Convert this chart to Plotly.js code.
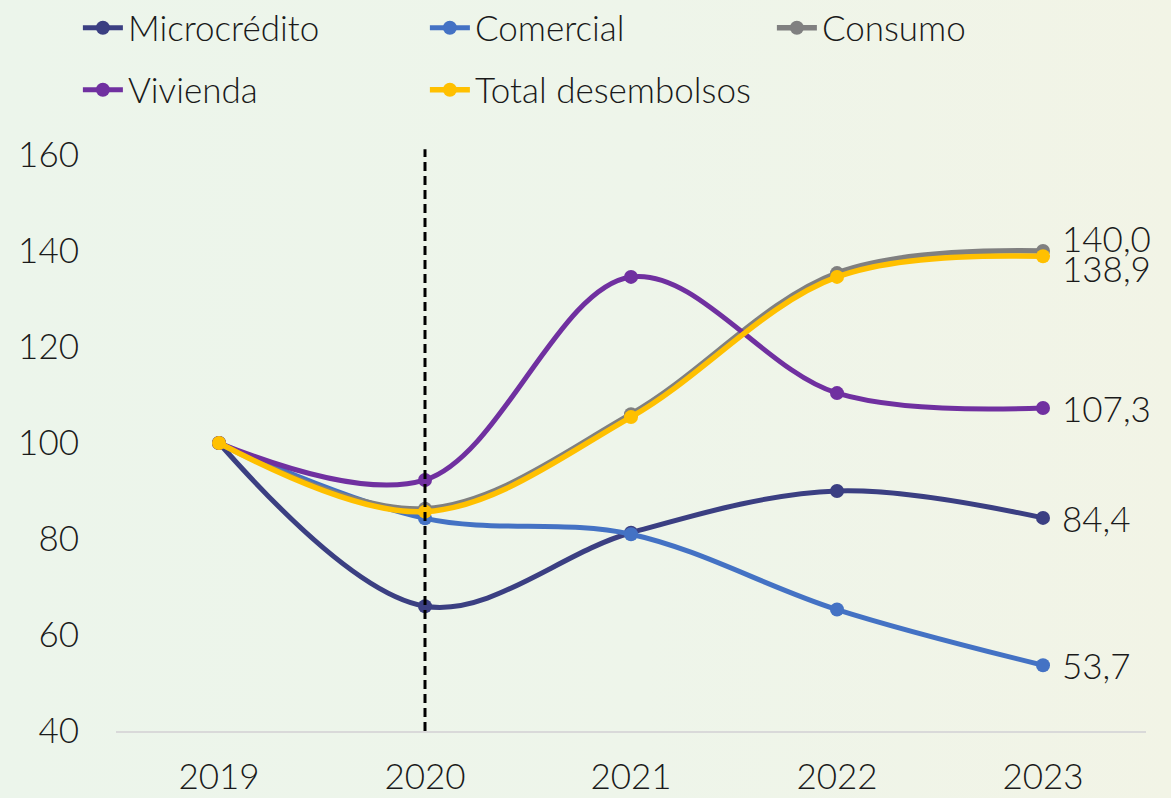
<!DOCTYPE html>
<html>
<head>
<meta charset="utf-8">
<script src="https://cdn.plot.ly/plotly-3.0.1.min.js"></script>
<style>
  html, body { margin: 0; padding: 0; }
  body { width: 1171px; height: 798px; background: linear-gradient(to right, #ecf5eb 0%, #eef5ea 55%, #f2f4e6 100%); }
  #chart { width: 1171px; height: 798px; }
</style>
</head>
<body>
<div id="chart"></div>
<script>
const years = ['2019', '2020', '2021', '2022', '2023'];
const microcredito = [100, 66.0, 81.3, 90.0, 84.4];
const comercial = [100, 84.3, 81.0, 65.3, 53.7];
const consumo = [100, 86.3, 106.0, 135.4, 140.0];
const vivienda = [100, 92.3, 134.6, 110.4, 107.3];
const totalDesembolsos = [100, 85.7, 105.4, 134.6, 138.9];
const yTicks = [40, 60, 80, 100, 120, 140, 160];

const FONT = 'Lato, "Open Sans", sans-serif';
const TXT = '#1a1a1a';
const WEIGHT = 300;

function line(name, y, color, width, legend) {
  return {
    type: 'scatter', mode: 'lines+markers', name: name, x: years, y: y,
    line: { color: color, width: width, shape: 'spline', smoothing: 1 },
    marker: { color: color, size: 14 },
    legend: legend
  };
}

const traces = [
  line('Microcrédito', microcredito, '#3b3f82', 5, 'legend'),
  line('Comercial', comercial, '#4472c4', 5, 'legend'),
  line('Consumo', consumo, '#808080', 5.5, 'legend'),
  line('Vivienda', vivienda, '#7030a0', 5, 'legend2'),
  line('Total desembolsos', totalDesembolsos, '#ffc000', 5.5, 'legend2')
];

const fmt = v => v.toFixed(1).replace('.', ',');
const last = years.length - 1;
const labelSeries = [
  { y: consumo, shift: 13 },
  { y: totalDesembolsos, shift: -12 },
  { y: vivienda, shift: 0 },
  { y: microcredito, shift: 0 },
  { y: comercial, shift: 0 }
];
const annotations = labelSeries.map(s => ({
  x: last, y: s.y[last], xref: 'x', yref: 'y',
  text: fmt(s.y[last]), showarrow: false, xanchor: 'left', yanchor: 'middle',
  xshift: 17, yshift: s.shift,
  font: { family: FONT, size: 35, color: TXT, weight: WEIGHT }
}));

const legendCommon = {
  orientation: 'h', xanchor: 'left', yanchor: 'middle',
  bgcolor: 'rgba(0,0,0,0)', font: { family: FONT, size: 35, color: TXT, weight: WEIGHT },
  entrywidth: 292, entrywidthmode: 'pixels', itemwidth: 40, traceorder: 'normal'
};

const layout = {
  width: 1171, height: 798,
  paper_bgcolor: 'rgba(0,0,0,0)', plot_bgcolor: 'rgba(0,0,0,0)',
  margin: { l: 116, r: 25, t: 155, b: 67, autoexpand: false },
  font: { family: FONT, size: 35, color: TXT, weight: WEIGHT },
  showlegend: true,
  legend: Object.assign({}, legendCommon, { x: -0.037, y: 1.2205 }),
  legend2: Object.assign({}, legendCommon, { x: -0.037, y: 1.1128 }),
  xaxis: {
    type: 'category', range: [-0.5, 4.5], showgrid: false, zeroline: false,
    showline: true, linecolor: '#d9d9d9', linewidth: 2, ticks: '',
    tickfont: { family: FONT, size: 35, color: TXT, weight: WEIGHT }, ticklabelstandoff: 14
  },
  yaxis: {
    range: [40, 160], tickvals: yTicks, showgrid: false, zeroline: false,
    showline: false, ticks: '',
    tickfont: { family: FONT, size: 35, color: TXT, weight: WEIGHT }, ticklabelstandoff: 36
  },
  shapes: [{
    type: 'line', xref: 'x', yref: 'paper', x0: years.indexOf('2020'), x1: years.indexOf('2020'),
    y0: 0, y1: 1.01, line: { color: '#000000', width: 3, dash: '9px,5px' }, layer: 'above'
  }],
  annotations: annotations
};

Plotly.newPlot('chart', traces, layout, { displayModeBar: false, staticPlot: true });
</script>
</body>
</html>
